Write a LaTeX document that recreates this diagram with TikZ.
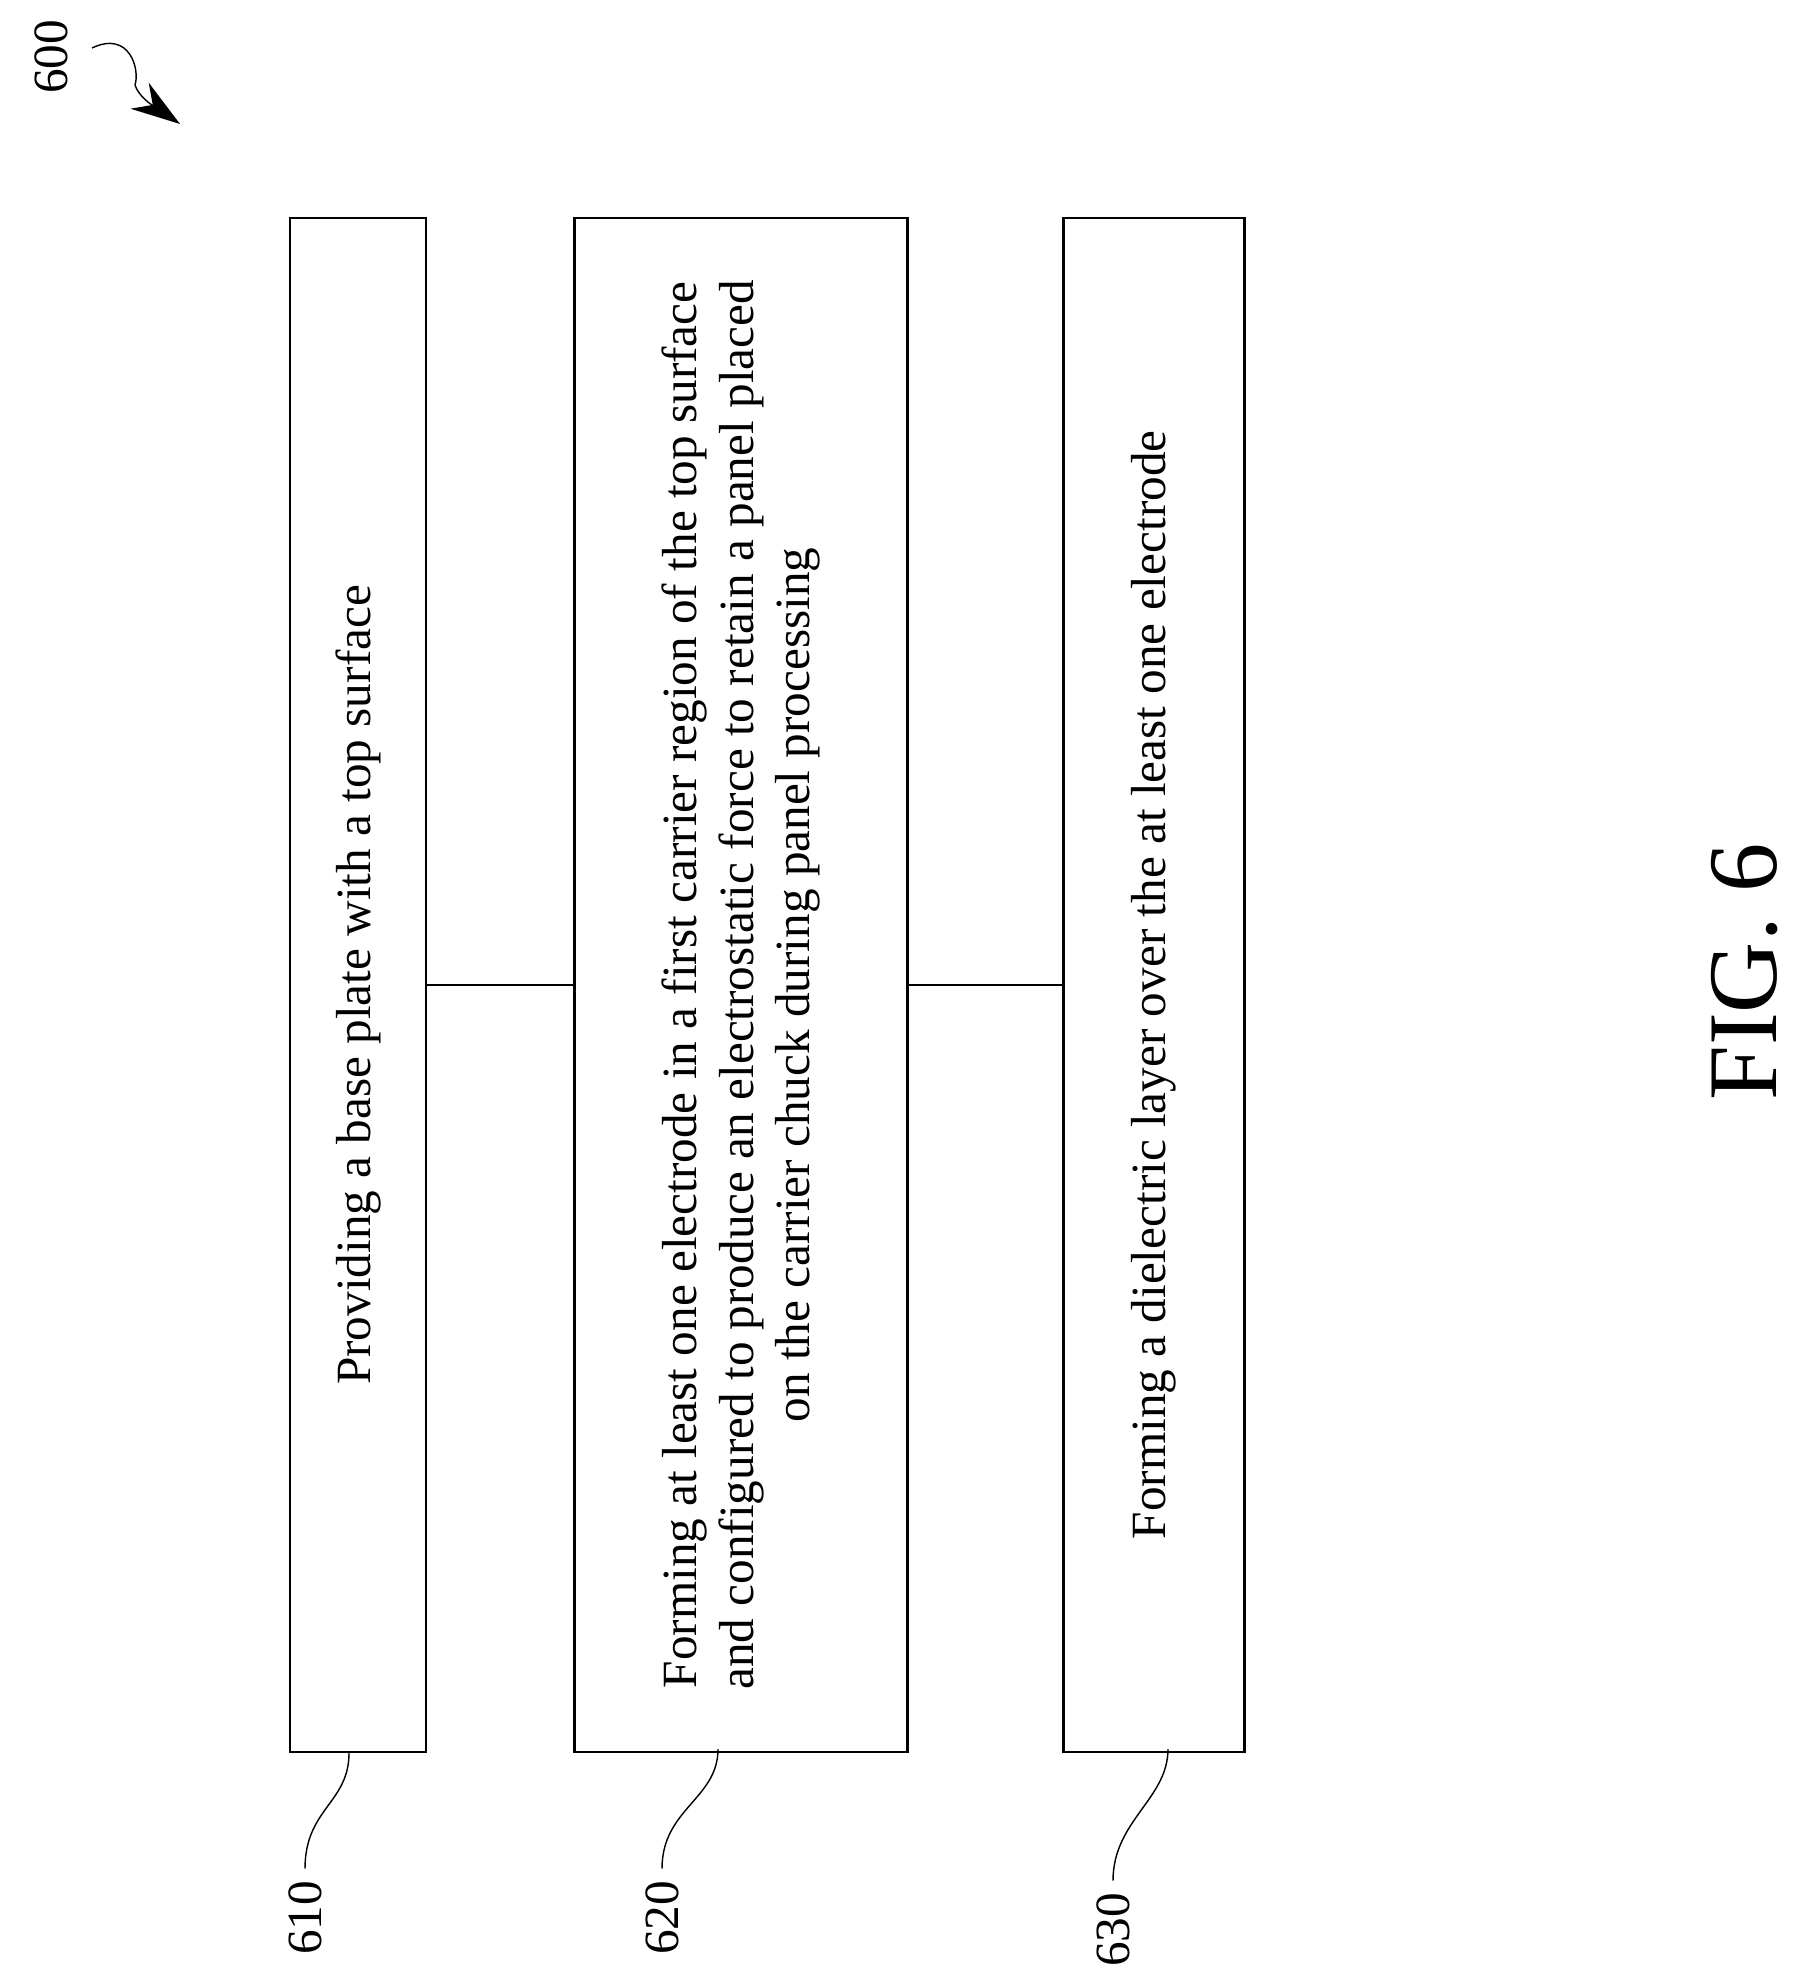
\documentclass[tikz,border=0pt]{standalone}
\usepackage{fontspec}
\setmainfont{Liberation Serif}
\usetikzlibrary{arrows.meta}
\tikzset{stepbox/.style={draw, rectangle, rotate=90, align=center, minimum width=15.33cm,
  font=\fontsize{14}{16}\selectfont, line width=0.8pt},
  lbl/.style={rotate=90, font=\fontsize{14}{16}\selectfont}}
\begin{document}
\begin{tikzpicture}[x=0.01cm,y=-0.01cm,>={Stealth[length=14pt,width=9pt]}]
\useasboundingbox (0,0) rectangle (1804,1986);

\node [stepbox,minimum height=1.36cm] (b610) at (358,985) {Providing a base plate with a top surface};
\node [stepbox,minimum height=3.33cm] (b620) at (741,985) {Forming at least one electrode in a first carrier region of the top surface\\and configured to produce an electrostatic force to retain a panel placed\\on the carrier chuck during panel processing};
\node [stepbox,minimum height=1.81cm] (b630) at (1154,985) {Forming a dielectric layer over the at least one electrode};

\draw [line width=0.5pt] (b610.south) -- (b620.north);
\draw [line width=0.5pt] (b620.south) -- (b630.north);

%reference labels
\node [lbl] (l600) at (51,57) {600};
\node [lbl] (l610) at (305,1918) {610};
\node [lbl] (l620) at (662,1918) {620};
\node [lbl] (l630) at (1113,1930) {630};

\coordinate (e610) at (349,1753);
\coordinate (e620) at (718,1749);
\coordinate (e630) at (1168,1749);

\draw (l610.east) .. controls +(0,-60) and +(0,50) .. (e610);
\draw (l620.east) .. controls +(0,-60) and +(0,50) .. (e620);
\draw (l630.east) .. controls +(0,-60) and +(0,50) .. (e630);

\draw [->] (92,48) .. controls (130,30) and (140,70) .. (135,85) .. controls (140,100) and (160,110) .. (180,124);
\node [font=\fontsize{28}{30}\selectfont, rotate=90] (fig) at (1745,972) {FIG. 6};
\end{tikzpicture}
\end{document}
